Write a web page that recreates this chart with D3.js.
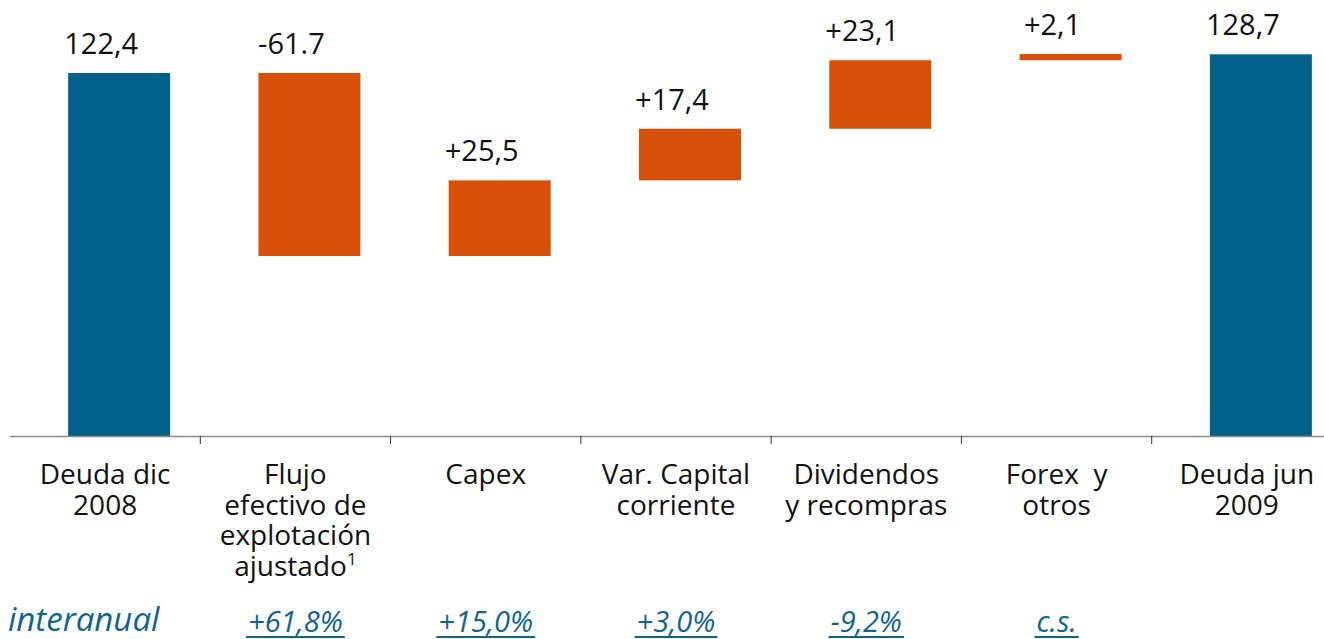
<!DOCTYPE html>
<html lang="es">
<head>
<meta charset="UTF-8">
<title>Deuda neta</title>
<script src="https://d3js.org/d3.v7.min.js"></script>
<style>
  body { margin: 0; background: #fff; }
  text { font-family: "Open Sans", sans-serif; white-space: pre; }
</style>
</head>
<body>
<svg width="1324" height="639"></svg>
<script>
// datos
const categories = [
  ["Deuda dic", "2008"],
  ["Flujo", "efectivo de", "explotación", "ajustado"],
  ["Capex"],
  ["Var. Capital", "corriente"],
  ["Dividendos", "y recompras"],
  ["Forex  y", "otros"],
  ["Deuda jun", "2009"]
];
const changes = [122.4, -61.7, 25.5, 17.4, 23.1, 2.1, 128.7];
const kinds = ["total", "delta", "delta", "delta", "delta", "delta", "total"];
const valueLabels = ["122,4", "-61.7", "+25,5", "+17,4", "+23,1", "+2,1", "128,7"];
const yoyLabels = [null, "+61,8%", "+15,0%", "+3,0%", "-9,2%", "c.s.", null];

const blue = "#00628b", orange = "#d6500a", yoyBlue = "#11648c";

const svg = d3.select("svg");

const x = d3.scaleBand().domain(d3.range(categories.length)).range([10, 1342]).padding(0);
const y = d3.scaleLinear().domain([0, 122.4]).range([436, 73]);

// build waterfall segments
let run = 0;
const bars = changes.map((v, i) => {
  let lo, hi;
  if (kinds[i] === "total") { lo = 0; hi = v; run = v; }
  else { const next = run + v; lo = Math.min(run, next); hi = Math.max(run, next); run = next; }
  return {i, lo, hi, kind: kinds[i]};
});

const barW = 102, barShift = 14;

svg.append("g").selectAll("rect")
  .data(bars)
  .join("rect")
  .attr("x", d => x(d.i) + x.bandwidth() / 2 - barW / 2 + barShift)
  .attr("width", barW)
  .attr("y", d => y(d.hi))
  .attr("height", d => y(d.lo) - y(d.hi))
  .attr("fill", d => d.kind === "total" ? blue : orange);

// value labels
svg.append("g").selectAll("text")
  .data(bars)
  .join("text")
  .attr("x", d => x(d.i) + x.bandwidth() / 2 - 4)
  .attr("y", d => y(d.hi) - 19)
  .attr("text-anchor", "middle")
  .attr("font-size", 29)
  .attr("fill", "#111")
  .text(d => valueLabels[d.i]);

// axis line + ticks
svg.append("line")
  .attr("x1", 10).attr("x2", 1324)
  .attr("y1", y(0) + 0.5).attr("y2", y(0) + 0.5)
  .attr("stroke", "#8a8a8a").attr("stroke-width", 1.5);

svg.append("g").selectAll("line")
  .data(d3.range(1, categories.length))
  .join("line")
  .attr("x1", i => x(i)).attr("x2", i => x(i))
  .attr("y1", y(0)).attr("y2", y(0) + 8)
  .attr("stroke", "#333").attr("stroke-width", 1);

// category labels
const cat = svg.append("g").selectAll("text")
  .data(categories)
  .join("text")
  .attr("x", (d, i) => x(i) + x.bandwidth() / 2)
  .attr("y", 484)
  .attr("text-anchor", "middle")
  .attr("font-size", 28)
  .attr("fill", "#111");

cat.each(function(lines, i) {
  const t = d3.select(this);
  lines.forEach((ln, k) => {
    t.append("tspan")
      .attr("x", x(i) + x.bandwidth() / 2)
      .attr("dy", k === 0 ? 0 : 30.5)
      .text(ln);
    if (i === 1 && k === lines.length - 1) {
      t.append("tspan").attr("font-size", 17).attr("dy", -11).text("1");
    }
  });
});

// interanual row
svg.append("text")
  .attr("x", 8).attr("y", 631)
  .attr("font-size", 33)
  .attr("font-style", "italic")
  .attr("fill", yoyBlue)
  .text("interanual");

const yoy = svg.append("g").selectAll("g")
  .data(yoyLabels.map((t, i) => ({t, i})).filter(d => d.t))
  .join("g");

yoy.append("text")
  .attr("x", d => x(d.i) + x.bandwidth() / 2)
  .attr("y", 632)
  .attr("text-anchor", "middle")
  .attr("font-size", 29)
  .attr("font-style", "italic")
  .attr("fill", yoyBlue)
  .text(d => d.t);

yoy.each(function(d) {
  const g = d3.select(this);
  const w = g.select("text").node().getComputedTextLength();
  const cx = x(d.i) + x.bandwidth() / 2;
  g.append("line")
    .attr("x1", cx - w / 2 - 2).attr("x2", cx + w / 2 + 2)
    .attr("y1", 637).attr("y2", 637)
    .attr("stroke", yoyBlue).attr("stroke-width", 2);
});
</script>
</body>
</html>
